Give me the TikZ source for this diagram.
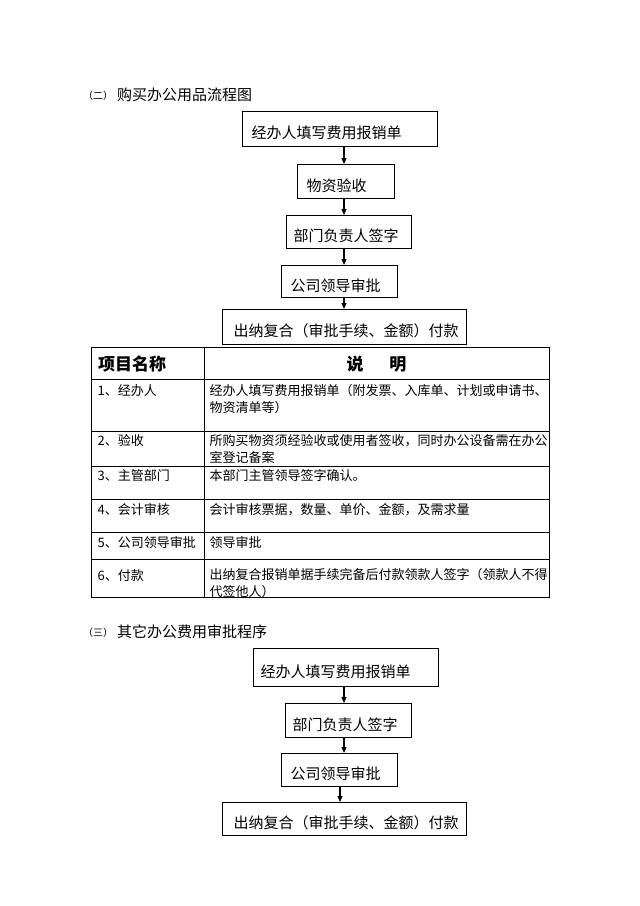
\documentclass[tikz,border=0pt]{standalone}
\usepackage{fontspec}
\setmainfont{Noto Sans CJK SC}
\usetikzlibrary{arrows.meta}
\begin{document}
\begin{tikzpicture}[x=1pt,y=-1pt,
  fbox/.style={draw, line width=1.2pt, anchor=north west, align=left, inner ysep=0pt,
    text height=19pt, text depth=0pt, font=\fontsize{15}{18}\selectfont},
  arr/.style={line width=1.1pt, -{Triangle[length=6pt,width=5pt]}},
  tline/.style={line width=0.9pt},
  ttext/.style={anchor=base west, align=left, inner sep=0pt, font=\fontsize{13}{17}\selectfont},
  head/.style={inner sep=0pt, font=\bfseries\fontsize{17}{20}\selectfont},
  title/.style={anchor=base west, inner sep=0pt, font=\fontsize{15}{18}\selectfont}]
\fill[white] (0,0) rectangle (640,906);
\useasboundingbox (0,0) rectangle (640,906);

% ---------- section (2) ----------
\node[title] (t1) at (83,100.7) {\raisebox{1.5pt}{\fontsize{10}{11}\selectfont （二）}\hspace{4pt}购买办公用品流程图};

\coordinate (ax) at (344,0);
\coordinate (ax2) at (340,0);

\node[fbox, text width=177pt, inner xsep=9pt, minimum height=35pt] (b1) at (242,111) {经办人填写费用报销单};
\node[fbox, text width=79pt, inner xsep=9pt, minimum height=34pt] (b2) at (297,164) {物资验收};
\node[fbox, text width=111pt, inner xsep=7pt, minimum height=33pt] (b3) at (286,215) {部门负责人签字};
\node[fbox, text width=98pt, inner xsep=9pt, minimum height=32pt] (b4) at (281,265) {公司领导审批};
\node[fbox, text width=222pt, inner xsep=11pt, minimum height=35pt] (b5) at (222,309) {出纳复合（审批手续、金额）付款};

\draw[arr] (b1.south -| ax) -- (b2.north -| ax);
\draw[arr] (b2.south -| ax) -- (b3.north -| ax);
\draw[arr] (b3.south -| ax) -- (b4.north -| ax);
\draw[arr] (b4.south -| ax) -- (b5.north -| ax);

% ---------- table ----------
\draw[tline] (91,347) rectangle (549,597);
\draw[tline] (204,347) -- (204,597);
\foreach \yy in {379,431,466,499,532,559} {\draw[tline] (91,\yy) -- (549,\yy);}

\node[head, anchor=base west] (h1) at (98,370.5) {项目名称};
\node[head, anchor=base] (h2) at (376.5,370.5) {说\hspace{26pt}明};

\node[ttext] (r1a) at (97.5,395) {1、经办人};
\node[ttext] (r1b) at (209.5,412) {经办人填写费用报销单（附发票、入库单、计划或申请书、\\物资清单等）};
\node[ttext] (r2a) at (97.5,445) {2、验收};
\node[ttext] (r2b) at (209.5,462) {所购买物资须经验收或使用者签收，同时办公设备需在办公\\室登记备案};
\node[ttext] (r3a) at (97.5,480) {3、主管部门};
\node[ttext] (r3b) at (209.5,480) {本部门主管领导签字确认。};
\node[ttext] (r4a) at (97.5,514) {4、会计审核};
\node[ttext] (r4b) at (209.5,514) {会计审核票据，数量、单价、金额，及需求量};
\node[ttext] (r5a) at (97.5,547) {5、公司领导审批};
\node[ttext] (r5b) at (209.5,547) {领导审批};
\node[ttext] (r6a) at (97.5,580) {6、付款};
\node[ttext] (r6b) at (209.5,596) {出纳复合报销单据手续完备后付款领款人签字（领款人不得\\代签他人）};

% ---------- section (3) ----------
\node[title] (t2) at (83,637.7) {\raisebox{1.5pt}{\fontsize{10}{11}\selectfont （三）}\hspace{4pt}其它办公费用审批程序};

\node[fbox, text width=171pt, inner xsep=7pt, minimum height=38pt] (c1) at (253,648) {经办人填写费用报销单};
\node[fbox, text width=112pt, inner xsep=7pt, minimum height=34pt] (c2) at (285,703) {部门负责人签字};
\node[fbox, text width=98pt, inner xsep=9pt, minimum height=33pt] (c3) at (281,753) {公司领导审批};
\node[fbox, text width=222pt, inner xsep=11pt, minimum height=33pt] (c4) at (222,802) {出纳复合（审批手续、金额）付款};

\draw[arr] (c1.south -| ax) -- (c2.north -| ax);
\draw[arr] (c2.south -| ax) -- (c3.north -| ax);
\draw[arr] (c3.south -| ax2) -- (c4.north -| ax2);
\end{tikzpicture}
\end{document}
